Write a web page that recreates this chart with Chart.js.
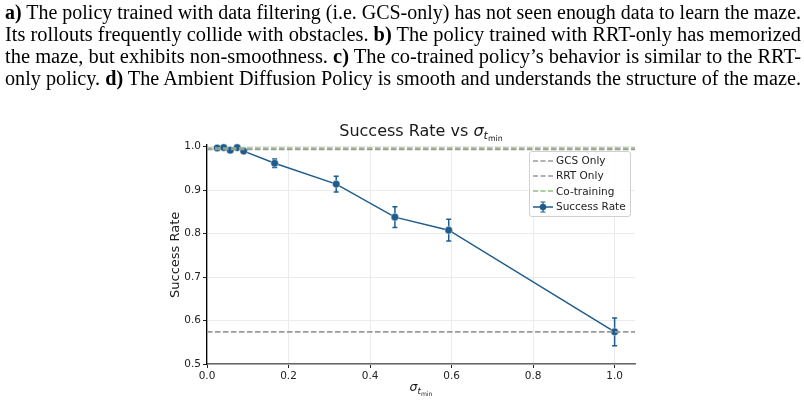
<!DOCTYPE html>
<html>
<head>
<meta charset="utf-8">
<script src="https://cdn.jsdelivr.net/npm/chart.js@4"></script>
<style>
  html, body { margin: 0; padding: 0; background: #fff; }
  #wrap { position: relative; width: 804px; height: 402px; overflow: hidden; }
  #chart { position: absolute; left: 0; top: 0; }
  .para { position: absolute; left: 5px; display: inline-block; font-family: "Liberation Serif", "Times New Roman", serif;
          font-size: 20px; color: #000; white-space: nowrap; line-height: 22px; transform-origin: 0 50%; }
  .para b { font-weight: bold; }
  .lbl { position: absolute; font-family: "DejaVu Sans", sans-serif; color: #1a1a1a; white-space: nowrap; }
  #title { left: 421px; top: 121px; transform: translateX(-50%); font-size: 16px; }
  #xlabel { left: 421px; top: 379px; transform: translateX(-50%); font-size: 12.5px; }
  #ylabel { left: 168px; top: 200px; height: 110px; line-height: 14px; font-size: 13px; text-align: center;
            writing-mode: vertical-rl; transform: rotate(180deg); }
  .sig { font-family: "DejaVu Sans", sans-serif; font-style: italic; }
  .sub1 { font-size: 0.7em; vertical-align: -0.3em; font-style: italic; }
  .sub2 { font-size: 0.7em; vertical-align: -0.3em; font-style: normal; }
  #legend { position: absolute; left: 529px; top: 151px; width: 100px; height: 63px; border: 1px solid #d0d0d0;
            border-radius: 3px; background: rgba(255,255,255,0.85); font-family: "DejaVu Sans", sans-serif;
            font-size: 10.5px; color: #222; padding-top: 1px; box-sizing: content-box; }
  .row { height: 15.4px; line-height: 15.4px; display: flex; align-items: center; white-space: nowrap; }
  .row svg { margin-left: 3px; margin-right: 3px; }
</style>
</head>
<body>
<div id="wrap">
  <canvas id="chart" width="804" height="402"></canvas>

  <div class="para" style="top:1px"><b>a)</b> The policy trained with data filtering (i.e. GCS-only) has not seen enough data to learn the maze.</div>
  <div class="para" style="top:23px">Its rollouts frequently collide with obstacles. <b>b)</b> The policy trained with RRT-only has memorized</div>
  <div class="para" style="top:45px">the maze, but exhibits non-smoothness. <b>c)</b> The co-trained policy’s behavior is similar to the RRT-</div>
  <div class="para" style="top:67px">only policy. <b>d)</b> The Ambient Diffusion Policy is smooth and understands the structure of the maze.</div>

  <div class="lbl" id="title">Success Rate vs <span class="sig">σ</span><span class="sub1">t<span class="sub2">min</span></span></div>
  <div class="lbl" id="xlabel"><span class="sig">σ</span><span class="sub1">t<span class="sub2">min</span></span></div>
  <div class="lbl" id="ylabel">Success Rate</div>

  <div id="legend">
    <div class="row"><svg width="20" height="10"><line x1="0" y1="5" x2="20" y2="5" stroke="#999" stroke-width="1.5" stroke-dasharray="5,2.5"/></svg>GCS Only</div>
    <div class="row"><svg width="20" height="10"><line x1="0" y1="5" x2="20" y2="5" stroke="#999" stroke-width="1.5" stroke-dasharray="5,2.5"/></svg>RRT Only</div>
    <div class="row"><svg width="20" height="10"><line x1="0" y1="5" x2="20" y2="5" stroke="#91bf7c" stroke-width="1.5" stroke-dasharray="5,2.5"/></svg>Co-training</div>
    <div class="row"><svg width="20" height="12"><line x1="0" y1="6" x2="20" y2="6" stroke="#1f5c8c" stroke-width="1.5"/><line x1="10" y1="1" x2="10" y2="11" stroke="#1f5c8c" stroke-width="1.2"/><line x1="7.5" y1="1" x2="12.5" y2="1" stroke="#1f5c8c" stroke-width="1"/><line x1="7.5" y1="11" x2="12.5" y2="11" stroke="#1f5c8c" stroke-width="1"/><circle cx="10" cy="6" r="3.2" fill="#1f5c8c"/></svg>Success Rate</div>
  </div>
</div>

<script>
// --- données ---
const sigmaTmin   = [0.025, 0.041, 0.057, 0.074, 0.09, 0.166, 0.317, 0.461, 0.593, 1.0];
const successRate = [0.997, 0.998, 0.992, 0.998, 0.990, 0.962, 0.914, 0.838, 0.808, 0.574];
const successErr  = [0.002, 0.002, 0.004, 0.002, 0.005, 0.010, 0.018, 0.024, 0.025, 0.032];

const gcsOnly    = 0.994;
const rrtOnly    = 0.574;
const coTraining = 0.997;

const xTicks = [0.0, 0.2, 0.4, 0.6, 0.8, 1.0];
const yTicks = [0.5, 0.6, 0.7, 0.8, 0.9, 1.0];
const xRange = [0, 1.05];
const yRange = [0.5, 1.004];

const BLUE = '#1f5c8c';

// texte du paragraphe : on resserre chaque ligne à la largeur de la colonne
document.querySelectorAll('.para').forEach(el => {
    const w = el.getBoundingClientRect().width;
    el.style.transform = `scaleX(${796 / w})`;
});

function hline(v) {
    return [{ x: xRange[0], y: v }, { x: xRange[1], y: v }];
}

// barres d'erreur dessinées avec les échelles du graphique
const errorBars = {
    id: 'errorBars',
    beforeDatasetDraw(chart, args) {
        if (args.index !== 3) return;
        const { ctx, scales: { x, y } } = chart;
        ctx.save();
        ctx.strokeStyle = BLUE;
        ctx.lineWidth = 1.5;
        sigmaTmin.forEach((sx, i) => {
            const px = x.getPixelForValue(sx);
            const top = y.getPixelForValue(successRate[i] + successErr[i]);
            const bot = y.getPixelForValue(successRate[i] - successErr[i]);
            ctx.beginPath();
            ctx.moveTo(px, top); ctx.lineTo(px, bot);
            ctx.moveTo(px - 2.5, top); ctx.lineTo(px + 2.5, top);
            ctx.moveTo(px - 2.5, bot); ctx.lineTo(px + 2.5, bot);
            ctx.stroke();
        });
        ctx.restore();
    }
};

const dashed = { borderWidth: 1.6, borderDash: [5.5, 2.5], pointRadius: 0, fill: false };

new Chart(document.getElementById('chart'), {
    type: 'scatter',
    data: {
        datasets: [
            { label: 'GCS Only', data: hline(gcsOnly), showLine: true, borderColor: '#999999', ...dashed },
            { label: 'RRT Only', data: hline(rrtOnly), showLine: true, borderColor: '#999999', ...dashed },
            { label: 'Co-training', data: hline(coTraining), showLine: true, borderColor: '#91bf7c', ...dashed },
            {
                label: 'Success Rate',
                data: sigmaTmin.map((v, i) => ({ x: v, y: successRate[i] })),
                showLine: true,
                borderColor: BLUE,
                borderWidth: 1.5,
                pointRadius: 3.8,
                pointBackgroundColor: BLUE,
                pointBorderColor: 'rgba(255,255,255,0.7)',
                pointBorderWidth: 0.6
            }
        ]
    },
    options: {
        responsive: false,
        animation: false,
        clip: false,
        layout: { autoPadding: false, padding: { left: 150, right: 169, top: 145, bottom: 8 } },
        plugins: { legend: { display: false }, tooltip: { enabled: false }, title: { display: false } },
        scales: {
            x: {
                type: 'linear',
                min: xRange[0], max: xRange[1],
                afterBuildTicks: s => { s.ticks = xTicks.map(v => ({ value: v })); },
                afterFit: s => { s.height = 30; },
                ticks: {
                    callback: v => v.toFixed(1),
                    color: '#222', padding: 2, maxRotation: 0,
                    font: { family: 'DejaVu Sans', size: 10.5 }
                },
                grid: { color: '#ebebeb', lineWidth: 1, tickColor: '#222', tickLength: 4 },
                border: { color: '#666', width: 1.5 }
            },
            y: {
                type: 'linear',
                min: yRange[0], max: yRange[1],
                afterBuildTicks: s => { s.ticks = yTicks.map(v => ({ value: v })); },
                afterFit: s => { s.width = 57; },
                ticks: {
                    callback: v => v.toFixed(1),
                    color: '#222', padding: 2,
                    font: { family: 'DejaVu Sans', size: 10.5 }
                },
                grid: { color: '#ebebeb', lineWidth: 1, tickColor: '#222', tickLength: 4 },
                border: { color: '#000', width: 1.3 }
            }
        }
    },
    plugins: [errorBars]
});
</script>
</body>
</html>
